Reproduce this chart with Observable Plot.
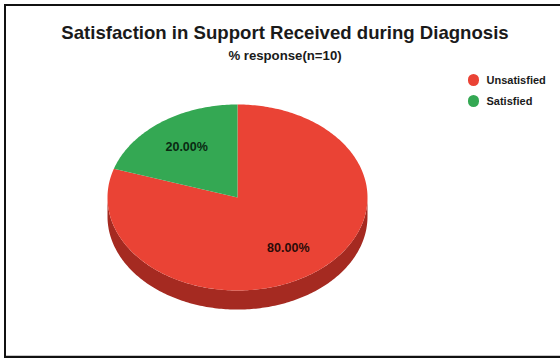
<!DOCTYPE html>
<html>
<head>
<meta charset="utf-8">
<script src="https://cdn.jsdelivr.net/npm/d3@7"></script>
<script src="https://cdn.jsdelivr.net/npm/@observablehq/plot@0.6"></script>
<style>
  html, body { margin: 0; padding: 0; background: #fff; }
  #page { position: relative; width: 560px; height: 358px; overflow: hidden;
          font-family: "Liberation Sans", Arial, sans-serif; color: #1a1a1a; }
  #frame { position: absolute; left: 4px; top: 4px; right: 0; bottom: 0;
           border: 2px solid #111; border-right: 0; box-shadow: inset 0 -1px 0 #c8c8c8; }
  h1 { position: absolute; left: 0; width: 570px; top: 23px; margin: 0; text-align: center;
       font-size: 18.6px; font-weight: bold; line-height: 20px; }
  h2 { position: absolute; left: 0; width: 570px; top: 49px; margin: 0; text-align: center;
       font-size: 13.2px; font-weight: bold; line-height: 14px; }
  .key { position: absolute; left: 467.5px; font-size: 11px; font-weight: bold; line-height: 12px; white-space: nowrap; }
  .key i { display: inline-block; width: 11.5px; height: 11.5px; border-radius: 50%; vertical-align: -1.5px; margin-right: 7.5px; }
  svg { position: absolute; left: 0; top: 0; }
</style>
</head>
<body>
<div id="page">
  <div id="frame"></div>
  <h1>Satisfaction in Support Received during Diagnosis</h1>
  <h2>% response(n=10)</h2>
</div>
<script>
const categories = ["Unsatisfied", "Satisfied"];
const shares = [80, 20];
const sliceColors = ["#ea4335", "#34a853"];
const sideColor = "#a52a21";
const labelColors = ["#2a0b08", "#0a2a12"];

// Thickness of the disc, in units of the pie's vertical radius.
const depth = 0.205;
const labelRadius = 0.665;

// Slices run clockwise; the 20% slice ends at twelve o'clock.
const pie = d3.pie().sort(null).value(d => d.share).startAngle(0).endAngle(2 * Math.PI);
const arcs = pie(categories.map((name, i) => ({name, share: shares[i]})));

function arcPoints(a0, a1, dy = 0) {
  const n = Math.max(2, Math.ceil(Math.abs(a1 - a0) * 60));
  return d3.range(n + 1).map(i => {
    const a = a0 + (a1 - a0) * i / n;
    return {x: Math.sin(a), y: Math.cos(a) - dy};
  });
}

const slices = arcs.flatMap(s =>
  [{x: 0, y: 0}, ...arcPoints(s.startAngle, s.endAngle)].map(p => ({...p, name: s.data.name}))
);

// Side wall: the lower half of the rim swept down by the disc's depth.
const wall = [
  ...arcPoints(Math.PI / 2, 3 * Math.PI / 2),
  ...arcPoints(3 * Math.PI / 2, Math.PI / 2, depth)
];

const labels = arcs.map((s, i) => {
  const mid = (s.startAngle + s.endAngle) / 2;
  return {
    x: labelRadius * Math.sin(mid),
    y: labelRadius * Math.cos(mid),
    text: s.data.share.toFixed(2) + "%",
    color: labelColors[i]
  };
});

const chart = Plot.plot({
  width: 560,
  height: 358,
  margin: 0,
  style: {background: "transparent"},
  x: {domain: [-1, 1], range: [107, 367], axis: null},
  y: {domain: [-1, 1], range: [290, 104], axis: null},
  color: {domain: categories, range: sliceColors},
  marks: [
    Plot.line(wall, {x: "x", y: "y", fill: sideColor, stroke: null, curve: "linear"}),
    Plot.line(slices, {x: "x", y: "y", z: "name", fill: "name", stroke: null, curve: "linear"}),
    Plot.text(labels, {
      x: "x", y: "y", text: "text", fill: d => d.color,
      fontFamily: "Liberation Sans, Arial, sans-serif",
      fontWeight: "bold", fontSize: 12.5
    })
  ]
});
const page = document.getElementById("page");
page.appendChild(chart);

// Legend at the top right.
categories.forEach((name, i) => {
  const key = document.createElement("div");
  key.className = "key";
  key.style.top = (74 + i * 21) + "px";
  const swatch = document.createElement("i");
  swatch.style.background = sliceColors[i];
  key.append(swatch, name);
  page.appendChild(key);
});
</script>
</body>
</html>
